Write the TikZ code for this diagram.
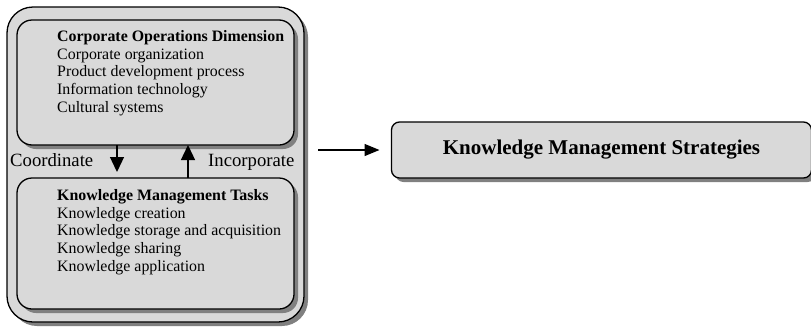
\documentclass[tikz,border=0pt]{standalone}
\usepackage{fontspec}
\setmainfont{Liberation Serif}
\usetikzlibrary{arrows.meta,shadows}
\begin{document}
\begin{tikzpicture}[x=1pt,y=-1pt,
  panel/.style={draw=black, fill=black!15, line width=1.3pt,
    drop shadow={shadow xshift=4pt, shadow yshift=-4pt, fill=black!50, opacity=1},
    inner sep=0pt, outer sep=0pt},
  listtext/.style={anchor=north west, align=left, inner sep=0pt,
    font=\fontsize{15.9}{17.6}\selectfont},
  sidelabel/.style={anchor=base west, inner sep=0pt, font=\fontsize{18.7}{20}\selectfont},
  flow/.style={line width=1.3pt, -{Triangle[width=14pt,length=15pt]}},
]
\useasboundingbox (0,0) rectangle (811,327);

% outer frame holding both dimensions
\node[panel, rounded corners=26pt, minimum width=297pt, minimum height=315pt]
  (frame) at (155.5,164.5) {};

% upper box: corporate operations
\node[panel, rounded corners=15pt, minimum width=277pt, minimum height=125pt]
  (ops) at (155.5,82.5) {};
\node[listtext] (opstext) at (57,30.5)
  {\textbf{Corporate Operations Dimension}\\
   Corporate organization\\
   Product development process\\
   Information technology\\
   Cultural systems};

% lower box: knowledge management tasks
\node[panel, rounded corners=15pt, minimum width=277pt, minimum height=131pt]
  (tasks) at (155.5,243.5) {};
\node[listtext] (taskstext) at (57,189.5)
  {\textbf{Knowledge Management Tasks}\\
   Knowledge creation\\
   Knowledge storage and acquisition\\
   Knowledge sharing\\
   Knowledge application};

% links between the two boxes
\node[sidelabel] (coord) at (10,166) {Coordinate};
\node[sidelabel] (incorp) at (208,166) {Incorporate};
\draw[flow] ([xshift=-38.5pt]ops.south) -- ++(0,27);
\draw[flow] ([xshift=32.5pt]tasks.north) -- ([xshift=32.5pt]ops.south);

% resulting strategies
\node[panel, rounded corners=8pt, minimum width=420pt, minimum height=56pt,
  font=\fontsize{21}{23}\selectfont\bfseries]
  (strat) at (601.5,150) {Knowledge Management Strategies};
\coordinate (out) at (318,150);
\draw[line width=1.3pt, -{Triangle[width=12pt,length=15pt]}] (out) -- ([xshift=-12pt]strat.west);
\end{tikzpicture}
\end{document}
